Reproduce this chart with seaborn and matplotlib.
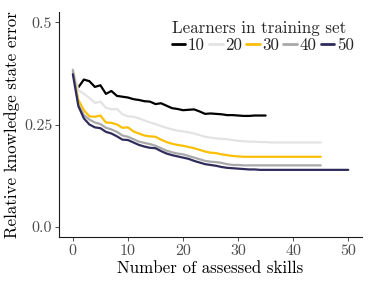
import numpy as np
import pandas as pd
import matplotlib
matplotlib.use("Agg")
import matplotlib.pyplot as plt
import seaborn as sns

learners = [10, 20, 30, 40, 50]
colors = ["#000000", "#e3e3e3", "#fbbf08", "#a9a8aa", "#2f2c5c"]

err_10 = [0.341, 0.360, 0.356, 0.342, 0.346, 0.325, 0.332, 0.320, 0.318, 0.316,
          0.312, 0.310, 0.307, 0.306, 0.300, 0.302, 0.296, 0.290, 0.288, 0.285,
          0.286, 0.287, 0.282, 0.276, 0.277, 0.276, 0.275, 0.273, 0.273, 0.272,
          0.271, 0.271, 0.272, 0.272, 0.272]
skills_10 = list(range(1, 36))

err_20 = [0.385, 0.334, 0.325, 0.315, 0.303, 0.306, 0.291, 0.287, 0.288, 0.275,
          0.270, 0.269, 0.265, 0.260, 0.255, 0.251, 0.246, 0.242, 0.238, 0.235,
          0.233, 0.231, 0.228, 0.224, 0.220, 0.218, 0.216, 0.215, 0.214, 0.212,
          0.210, 0.209, 0.208, 0.208, 0.207, 0.207, 0.206, 0.206, 0.206, 0.206,
          0.206, 0.206, 0.206, 0.206, 0.206, 0.206]
skills_20 = list(range(0, 46))

err_30 = [0.379, 0.310, 0.285, 0.270, 0.269, 0.272, 0.255, 0.254, 0.250, 0.242,
          0.243, 0.233, 0.228, 0.223, 0.221, 0.220, 0.213, 0.207, 0.203, 0.200,
          0.198, 0.195, 0.192, 0.188, 0.184, 0.181, 0.180, 0.177, 0.175, 0.173,
          0.172, 0.171, 0.171, 0.171, 0.171, 0.171, 0.171, 0.171, 0.171, 0.171,
          0.171, 0.171, 0.171, 0.171, 0.171, 0.171]
skills_30 = list(range(0, 46))

err_40 = [0.383, 0.298, 0.273, 0.262, 0.255, 0.251, 0.242, 0.238, 0.232, 0.223,
          0.220, 0.214, 0.208, 0.205, 0.202, 0.198, 0.192, 0.186, 0.182, 0.179,
          0.177, 0.173, 0.169, 0.165, 0.161, 0.159, 0.158, 0.156, 0.153, 0.151,
          0.151, 0.150, 0.150, 0.150, 0.150, 0.150, 0.150, 0.150, 0.150, 0.150,
          0.150, 0.150, 0.150, 0.150, 0.150, 0.150]
skills_40 = list(range(0, 46))

err_50 = [0.373, 0.295, 0.265, 0.250, 0.243, 0.241, 0.232, 0.228, 0.221, 0.213,
          0.212, 0.206, 0.200, 0.196, 0.193, 0.192, 0.185, 0.179, 0.175, 0.172,
          0.169, 0.166, 0.161, 0.157, 0.153, 0.151, 0.149, 0.146, 0.144, 0.143,
          0.142, 0.141, 0.140, 0.140, 0.139, 0.139, 0.139, 0.139, 0.139, 0.139,
          0.139, 0.139, 0.139, 0.139, 0.139, 0.139, 0.139, 0.139, 0.139, 0.139,
          0.139]
skills_50 = list(range(0, 51))

x_ticks = [0, 10, 20, 30, 40, 50]
y_ticks = [0.0, 0.25, 0.5]
y_tick_labels = ["0.0", "0.25", "0.5"]

series = [(10, skills_10, err_10), (20, skills_20, err_20), (30, skills_30, err_30),
          (40, skills_40, err_40), (50, skills_50, err_50)]
frames = [pd.DataFrame({"skills": s, "error": e, "learners": str(n)}) for n, s, e in series]
df = pd.concat(frames, ignore_index=True)

sns.set_theme(style="white")
plt.rcParams["font.family"] = ["cmr10", "DejaVu Serif"]
plt.rcParams["axes.formatter.use_mathtext"] = True
plt.rcParams["mathtext.fontset"] = "cm"

fig = plt.figure(figsize=(3.74, 2.82), dpi=100)
ax = fig.add_axes([0.158, 0.160, 0.810, 0.797])

sns.lineplot(data=df, x="skills", y="error", hue="learners",
             hue_order=[str(n) for n in learners],
             palette=colors, linewidth=1.6, ax=ax, legend=True)

ax.set_xlim(-2.5, 52.5)
ax.set_ylim(-0.025, 0.525)
ax.set_xticks(x_ticks)
ax.set_xticklabels([str(t) for t in x_ticks])
ax.set_yticks(y_ticks)
ax.set_yticklabels(y_tick_labels)
ax.tick_params(axis="both", which="both", length=3, width=0.6, color="#333333",
               labelsize=11.5, labelcolor="#4d4d4d", pad=2, left=True, bottom=True)
for side in ["top", "right"]:
    ax.spines[side].set_visible(False)
for side in ["left", "bottom"]:
    ax.spines[side].set_color("#1a1a1a")
    ax.spines[side].set_linewidth(0.8)

ax.set_xlabel("Number of assessed skills", fontsize=12.2, labelpad=2, color="black")
ax.set_ylabel("Relative knowledge state error", fontsize=12.2, labelpad=3, color="black")

handles, labels = ax.get_legend_handles_labels()
leg = ax.legend(handles, labels, title="Learners in training set", ncol=5,
                loc="upper right", bbox_to_anchor=(1.0, 1.0), frameon=False,
                fontsize=12.2, title_fontsize=12.2, handlelength=0.8,
                handletextpad=0.15, columnspacing=0.25, borderaxespad=0.3,
                borderpad=0.2, labelspacing=0.1)
leg._legend_box.align = "left"
for line in leg.get_lines():
    line.set_linewidth(2.0)

fig.savefig("out.png", dpi=100, facecolor="white")
